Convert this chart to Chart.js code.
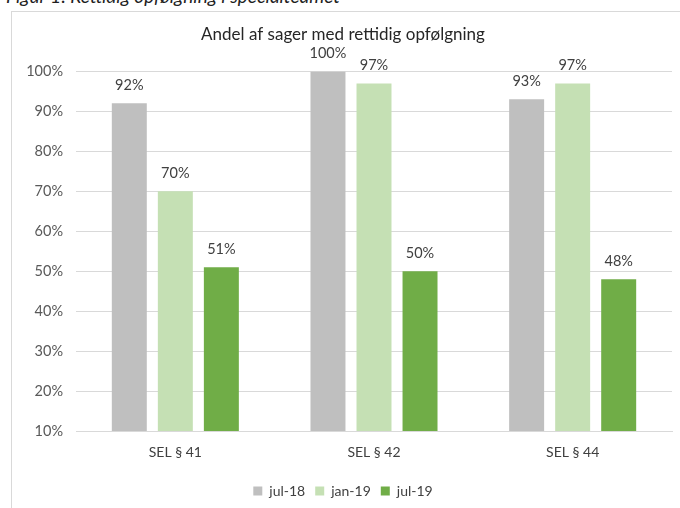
<!DOCTYPE html>
<html>
<head>
<meta charset="utf-8">
<script src="https://cdn.jsdelivr.net/npm/chart.js@4"></script>
<style>
  html, body { margin: 0; padding: 0; background: #fff; overflow: hidden; }
  #page { position: relative; width: 680px; height: 508px; overflow: hidden; }
  #caption {
    position: absolute; left: 6px; top: -16px; white-space: nowrap;
    font-family: Lato, "Open Sans", sans-serif; font-style: italic;
    font-size: 19px; color: #1f1f1f;
  }
  #frame {
    position: absolute; left: 11px; top: 11px; width: 720px; height: 560px;
    border: 1px solid #d9d9d9; box-sizing: border-box;
  }
  #chart { position: absolute; left: 0; top: 0; }
</style>
</head>
<body>
<div id="page">
  <div id="caption">Figur 1: Rettidig opfølgning i specialteamet</div>
  <div id="frame"></div>
  <canvas id="chart" width="680" height="508"></canvas>
</div>
<script>
// Categories (paragraphs) and the share of cases followed up on time, in percent
const categories = ["SEL § 41", "SEL § 42", "SEL § 44"];
const seriesNames = ["jul-18", "jan-19", "jul-19"];
const jul18 = [92, 100, 93];
const jan19 = [70, 97, 97];
const jul19 = [51, 50, 48];
const seriesColors = ["#bfbfbf", "#c5e0b4", "#70ad47"];
const yTicks = [10, 20, 30, 40, 50, 60, 70, 80, 90, 100];

const FONT = "Lato, 'Open Sans', sans-serif";

// Draws each bar's value above it
const valueLabels = {
  id: "valueLabels",
  afterDatasetsDraw(chart) {
    const ctx = chart.ctx;
    ctx.save();
    ctx.font = "14.5px " + FONT;
    ctx.fillStyle = "#404040";
    ctx.textAlign = "center";
    ctx.textBaseline = "middle";
    chart.data.datasets.forEach((ds, i) => {
      chart.getDatasetMeta(i).data.forEach((bar, j) => {
        ctx.fillText(ds.data[j] + "%", bar.x, bar.y - 18);
      });
    });
    ctx.restore();
  }
};

new Chart(document.getElementById("chart"), {
  type: "bar",
  data: {
    labels: categories,
    datasets: [jul18, jan19, jul19].map((d, i) => ({
      label: seriesNames[i],
      data: d,
      backgroundColor: seriesColors[i],
      borderWidth: 0,
      categoryPercentage: 0.695,
      barPercentage: 0.76
    }))
  },
  options: {
    responsive: false,
    animation: false,
    devicePixelRatio: 1,
    layout: { padding: { left: 14, right: 8, top: 0, bottom: 0 } },
    plugins: {
      title: {
        display: true,
        text: "Andel af sager med rettidig opfølgning",
        color: "#262626",
        font: { family: FONT, size: 17, weight: "normal" },
        padding: { top: 24, bottom: 27 }
      },
      legend: {
        position: "bottom",
        labels: {
          color: "#404040",
          font: { family: FONT, size: 14 },
          boxWidth: 9,
          boxHeight: 9,
          padding: 10
        }
      },
      tooltip: { enabled: false }
    },
    scales: {
      y: {
        min: 10,
        max: 100,
        afterBuildTicks(scale) { scale.ticks = yTicks.map(v => ({ value: v })); },
        afterFit(scale) { scale.width = 62; },
        ticks: {
          color: "#595959",
          font: { family: FONT, size: 14.5 },
          padding: 13,
          callback: v => v + "%"
        },
        grid: { color: "#d9d9d9", lineWidth: 1, drawTicks: false },
        border: { display: false }
      },
      x: {
        afterFit(scale) { scale.height = 43; },
        ticks: {
          color: "#404040",
          font: { family: FONT, size: 14 },
          padding: 13
        },
        grid: { display: false, drawTicks: false },
        border: { display: true, color: "#d9d9d9" }
      }
    }
  },
  plugins: [valueLabels]
});
</script>
</body>
</html>
